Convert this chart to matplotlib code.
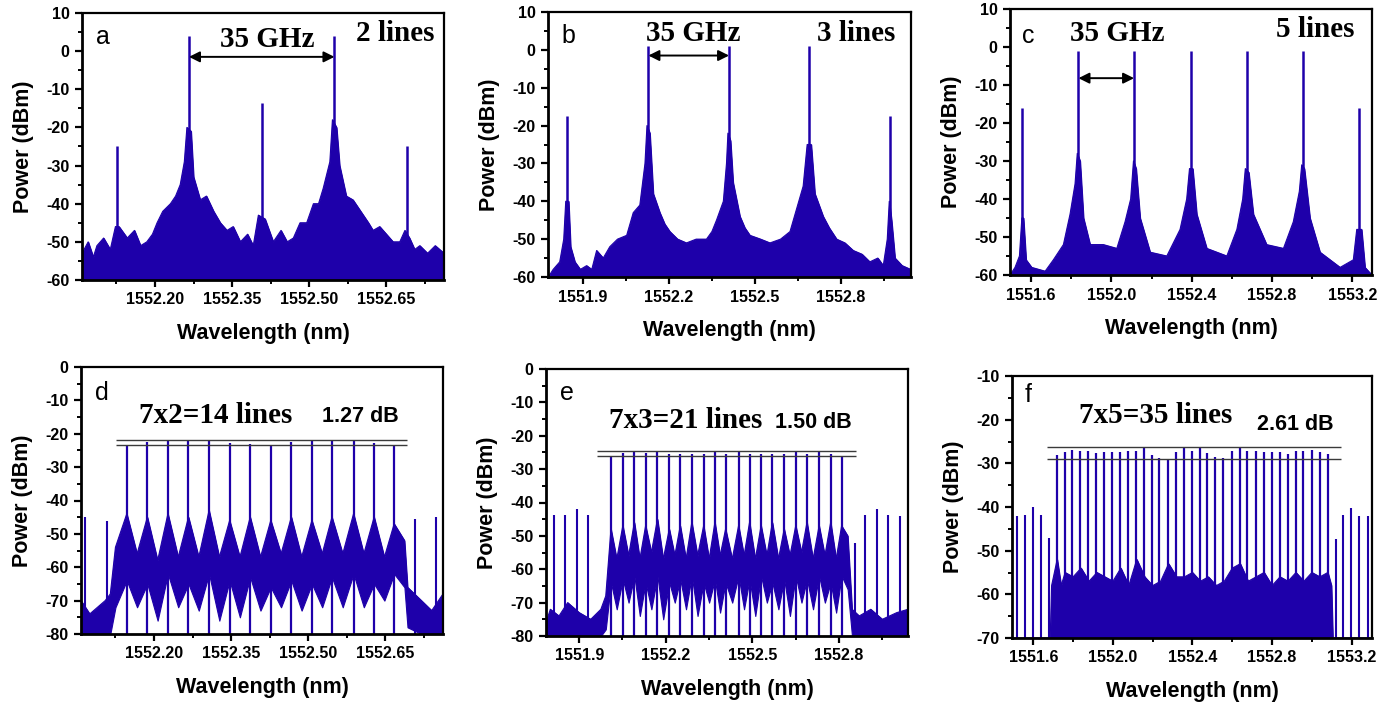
import matplotlib
matplotlib.use("Agg")
import matplotlib.pyplot as plt
from matplotlib.ticker import MultipleLocator, FormatStrFormatter

plt.rcParams["font.family"] = ["Liberation Sans", "DejaVu Sans"]
plt.rcParams["font.weight"] = "bold"
plt.rcParams["axes.unicode_minus"] = False

BLUE = "#1e00aa"
GRID_GRAY = "#3a3a3a"
SERIF = "Liberation Serif"

# ---------------- panel a: 2 lines ----------------
a_peak_wl = [1552.126, 1552.266, 1552.409, 1552.549, 1552.690]
a_peak_dbm = [-25.0, 4.0, -13.6, 4.0, -24.8]
a_floor_wl = [1552.058, 1552.070, 1552.080, 1552.087, 1552.100, 1552.113, 1552.123,
              1552.130, 1552.146, 1552.160, 1552.172, 1552.184, 1552.195, 1552.204,
              1552.215, 1552.230, 1552.240, 1552.249, 1552.257, 1552.262, 1552.270,
              1552.275, 1552.288, 1552.300, 1552.314, 1552.327, 1552.340, 1552.352,
              1552.366, 1552.380, 1552.391, 1552.401, 1552.414, 1552.430, 1552.445,
              1552.457, 1552.469, 1552.482, 1552.495, 1552.508, 1552.518, 1552.527,
              1552.540, 1552.545, 1552.553, 1552.559, 1552.572, 1552.585, 1552.595,
              1552.605, 1552.615, 1552.624, 1552.637, 1552.650, 1552.663, 1552.676,
              1552.686, 1552.695, 1552.705, 1552.715, 1552.730, 1552.745, 1552.762]
a_floor_hi = [-53, -50, -54, -51, -49, -52, -46, -46, -49, -47, -51, -50, -48, -45,
              -42, -40, -38, -35, -29, -20, -21, -33, -39, -38, -42, -45, -47, -46,
              -50, -48, -51, -43, -44, -50, -47, -50, -49, -45, -45, -40, -40, -36,
              -29, -18, -20, -30, -38, -39, -41, -43, -45, -47, -46, -48, -50, -50,
              -47, -49, -52, -51, -53, -51, -53]
a_floor_lo = [-60] * len(a_floor_wl)

# ---------------- panel b: 3 lines ----------------
b_peak_wl = [1551.844, 1552.128, 1552.410, 1552.690, 1552.972]
b_peak_dbm = [-17.5, 1.1, 1.1, 1.1, -17.5]
b_floor_wl = [1551.778, 1551.795, 1551.818, 1551.832, 1551.839, 1551.849, 1551.856,
              1551.871, 1551.890, 1551.912, 1551.930, 1551.947, 1551.970, 1551.993,
              1552.020, 1552.052, 1552.075, 1552.098, 1552.116, 1552.123, 1552.133,
              1552.145, 1552.168, 1552.185, 1552.203, 1552.230, 1552.261, 1552.295,
              1552.331, 1552.350, 1552.366, 1552.390, 1552.401, 1552.406, 1552.415,
              1552.424, 1552.448, 1552.465, 1552.483, 1552.520, 1552.553, 1552.590,
              1552.623, 1552.646, 1552.669, 1552.683, 1552.697, 1552.710, 1552.739,
              1552.760, 1552.786, 1552.815, 1552.844, 1552.875, 1552.902, 1552.930,
              1552.949, 1552.963, 1552.970, 1552.978, 1552.990, 1553.015, 1553.045]
b_floor_hi = [-60, -58, -56, -50, -40, -40, -52, -56, -58, -57, -58, -53, -55, -52,
              -50, -49, -43, -41, -30, -20, -22, -38, -43, -46, -48, -50, -51, -50,
              -50, -48, -45, -40, -30, -22, -24, -35, -44, -47, -49, -50, -51, -50,
              -48, -42, -36, -25, -25, -38, -44, -47, -50, -51, -53, -54, -56, -55,
              -57, -50, -40, -45, -55, -57, -58]
b_floor_lo = [-60] * len(b_floor_wl)

# ---------------- panel c: 5 lines ----------------
c_peak_wl = [1551.557, 1551.836, 1552.113, 1552.397, 1552.674, 1552.953, 1553.235]
c_peak_dbm = [-16.0, -1.0, -1.0, -1.0, -1.0, -1.0, -16.0]
c_floor_wl = [1551.495, 1551.520, 1551.542, 1551.554, 1551.562, 1551.575, 1551.603,
              1551.670, 1551.711, 1551.761, 1551.794, 1551.819, 1551.830, 1551.844,
              1551.861, 1551.894, 1551.960, 1552.027, 1552.068, 1552.096, 1552.110,
              1552.123, 1552.143, 1552.193, 1552.276, 1552.342, 1552.375, 1552.389,
              1552.405, 1552.425, 1552.475, 1552.575, 1552.625, 1552.654, 1552.667,
              1552.684, 1552.707, 1552.773, 1552.857, 1552.906, 1552.936, 1552.948,
              1552.961, 1552.989, 1553.039, 1553.139, 1553.205, 1553.222, 1553.246,
              1553.263, 1553.297]
c_floor_hi = [-60, -58, -55, -45, -45, -56, -58, -59, -56, -52, -44, -36, -28, -30,
              -45, -52, -52, -53, -46, -40, -30, -32, -45, -54, -55, -48, -40, -32,
              -32, -44, -53, -55, -48, -40, -32, -33, -44, -52, -53, -46, -38, -31,
              -32, -45, -54, -58, -56, -48, -48, -58, -60]
c_floor_lo = [-60] * len(c_floor_wl)

# ---------------- panel d: 7x2 = 14 lines ----------------
d_comb_wl = [1552.147, 1552.187, 1552.227, 1552.267, 1552.307, 1552.347, 1552.387,
             1552.427, 1552.467, 1552.507, 1552.546, 1552.588, 1552.628, 1552.667]
d_comb_dbm = [-23.27, -22.4, -22.0, -22.1, -22.0, -22.9, -23.2,
              -23.27, -22.6, -22.0, -22.1, -22.0, -22.9, -23.27]
d_side_wl = [1552.065, 1552.108, 1552.707, 1552.748]
d_side_dbm = [-45.0, -46.0, -45.5, -45.0]
d_floor_wl = [1552.058, 1552.075, 1552.090, 1552.105, 1552.115, 1552.125, 1552.147,
              1552.167, 1552.187, 1552.207, 1552.227, 1552.247, 1552.267, 1552.287,
              1552.307, 1552.327, 1552.347, 1552.367, 1552.387, 1552.407, 1552.427,
              1552.447, 1552.467, 1552.487, 1552.507, 1552.527, 1552.546, 1552.567,
              1552.588, 1552.608, 1552.628, 1552.648, 1552.667, 1552.687, 1552.693,
              1552.720, 1552.740, 1552.762]
d_floor_hi = [-70, -74, -72, -70, -68, -54, -44, -56, -45, -58, -44, -57, -45, -57,
              -43, -57, -46, -57, -45, -57, -46, -56, -45, -57, -46, -56, -45, -56,
              -44, -56, -45, -57, -47, -52, -66, -70, -73, -68]
d_floor_lo = [-80, -80, -80, -80, -80, -72, -64, -72, -65, -76, -62, -72, -65, -73,
              -62, -76, -64, -75, -63, -73, -66, -72, -64, -73, -65, -72, -63, -72,
              -62, -72, -65, -70, -62, -66, -78, -80, -80, -80]
d_flat_text = "1.27 dB"

# ---------------- panel e: 7x3 = 21 lines ----------------
e_comb_wl = [1552.010, 1552.051, 1552.091, 1552.130, 1552.171, 1552.212, 1552.250,
             1552.290, 1552.331, 1552.370, 1552.407, 1552.452, 1552.490, 1552.530,
             1552.569, 1552.610, 1552.650, 1552.689, 1552.731, 1552.771, 1552.809]
e_comb_dbm = [-26.0, -25.3, -24.5, -25.3, -24.5, -25.6, -25.6, -25.6, -25.6, -24.5,
              -25.6, -24.5, -25.6, -25.6, -25.6, -25.6, -24.5, -25.6, -24.5, -25.6, -26.0]
e_side_wl = [1551.811, 1551.850, 1551.892, 1551.932, 1552.855,
             1552.891, 1552.930, 1552.970, 1553.013]
e_side_dbm = [-43.6, -43.6, -42.0, -43.6, -52.0, -43.6, -42.0, -43.6, -44.0]
e_floor_wl = [1551.785, 1551.800, 1551.830, 1551.860, 1551.900, 1551.940, 1551.975,
              1551.992, 1552.010, 1552.030, 1552.051, 1552.071, 1552.091, 1552.110,
              1552.130, 1552.150, 1552.171, 1552.191, 1552.212, 1552.231, 1552.250,
              1552.270, 1552.290, 1552.310, 1552.331, 1552.350, 1552.370, 1552.388,
              1552.407, 1552.430, 1552.452, 1552.471, 1552.490, 1552.510, 1552.530,
              1552.550, 1552.569, 1552.590, 1552.610, 1552.630, 1552.650, 1552.670,
              1552.689, 1552.710, 1552.731, 1552.751, 1552.771, 1552.790, 1552.809,
              1552.830, 1552.845, 1552.870, 1552.910, 1552.950, 1553.000, 1553.039]
e_floor_hi = [-76, -72, -74, -70, -73, -75, -72, -68, -48, -57, -47, -56, -46, -57,
              -47, -55, -45, -57, -48, -56, -47, -57, -46, -56, -47, -57, -46, -56,
              -48, -57, -47, -56, -46, -57, -47, -56, -46, -57, -48, -56, -47, -55,
              -46, -57, -47, -56, -46, -57, -47, -50, -72, -74, -72, -75, -73, -72]
e_floor_lo = [-80, -80, -80, -80, -80, -80, -80, -78, -64, -72, -63, -70, -62, -74,
              -64, -72, -62, -75, -64, -70, -63, -72, -62, -74, -64, -70, -63, -73,
              -64, -70, -62, -72, -63, -74, -62, -70, -64, -72, -63, -74, -62, -70,
              -63, -72, -62, -70, -64, -73, -62, -66, -80, -80, -80, -80, -80, -80]
e_flat_text = "1.50 dB"

# ---------------- panel f: 7x5 = 35 lines ----------------
f_comb_wl = [1551.719, 1551.757, 1551.794, 1551.835, 1551.875, 1551.913, 1551.953,
             1551.994, 1552.036, 1552.076, 1552.116, 1552.156, 1552.195, 1552.233,
             1552.278, 1552.319, 1552.359, 1552.399, 1552.439, 1552.474, 1552.515,
             1552.555, 1552.600, 1552.637, 1552.675, 1552.717, 1552.757, 1552.799,
             1552.838, 1552.878, 1552.918, 1552.955, 1552.999, 1553.039, 1553.079]
f_comb_dbm = [-28.2, -27.4, -27.0, -27.2, -27.2, -27.6, -27.4, -27.4, -27.4, -27.2,
              -27.2, -26.3, -28.2, -28.7, -28.91, -27.4, -26.6, -27.2, -26.6, -27.6,
              -28.5, -28.7, -27.2, -26.3, -27.2, -27.2, -27.4, -27.4, -27.4, -27.8,
              -27.2, -27.2, -26.9, -27.4, -27.9]
f_side_wl = [1551.520, 1551.558, 1551.597, 1551.639, 1551.677,
             1553.119, 1553.158, 1553.198, 1553.238, 1553.280]
f_side_dbm = [-42.1, -41.9, -40.0, -41.9, -47.1, -47.3, -41.8, -40.2, -42.1, -42.1]
f_floor_wl = [1551.493, 1551.685, 1551.692, 1551.720, 1551.740, 1551.760, 1551.800,
              1551.840, 1551.880, 1551.920, 1551.960, 1552.000, 1552.040, 1552.080,
              1552.120, 1552.160, 1552.200, 1552.240, 1552.280, 1552.320, 1552.360,
              1552.400, 1552.440, 1552.480, 1552.520, 1552.560, 1552.600, 1552.640,
              1552.680, 1552.720, 1552.760, 1552.800, 1552.840, 1552.880, 1552.920,
              1552.960, 1553.000, 1553.040, 1553.080, 1553.098, 1553.105, 1553.302]
f_floor_hi = [-70, -70, -58, -52, -58, -55, -56, -54, -57, -55, -56, -57, -54, -58,
              -52, -56, -58, -57, -53, -56, -56, -55, -57, -56, -58, -57, -54, -53,
              -57, -56, -55, -58, -56, -57, -55, -57, -55, -56, -55, -58, -70, -70]
f_floor_lo = [-70] * len(f_floor_wl)
f_flat_text = "2.61 dB"


def px_axes(fig, left, top, right, bottom):
    W, H = 1400, 708
    return fig.add_axes([left / W, (H - bottom) / H, (right - left) / W, (bottom - top) / H])


def style_axes(ax, xlim, ylim, xmaj, xmin, ymaj, xfmt):
    ax.set_xlim(*xlim)
    ax.set_ylim(*ylim)
    ax.xaxis.set_major_locator(MultipleLocator(xmaj))
    ax.xaxis.set_minor_locator(MultipleLocator(xmin))
    ax.yaxis.set_major_locator(MultipleLocator(ymaj))
    ax.yaxis.set_minor_locator(MultipleLocator(ymaj / 2))
    ax.xaxis.set_major_formatter(FormatStrFormatter(xfmt))
    ax.tick_params(which="major", direction="out", length=5, width=1.6,
                   labelsize=11.5, pad=4)
    ax.tick_params(which="minor", direction="out", length=3, width=1.4)
    ax.tick_params(top=False, right=False, which="both")
    for side in ("left", "bottom"):
        ax.spines[side].set_linewidth(2.0)
    for side in ("top", "right"):
        ax.spines[side].set_linewidth(1.6)
    ax.set_xlabel("Wavelength (nm)", fontsize=15.5, fontweight="bold", labelpad=11)
    ax.set_ylabel("Power (dBm)", fontsize=15.5, fontweight="bold", labelpad=9)


def draw_spectrum(ax, floor_wl, floor_lo, floor_hi, peak_wl, peak_dbm, floor_base, lw=1.8):
    ax.fill_between(floor_wl, floor_lo, floor_hi, color=BLUE, linewidth=0.8)
    ax.plot(floor_wl, floor_hi, color=BLUE, linewidth=0.8)
    ax.vlines(peak_wl, floor_base, peak_dbm, color=BLUE, linewidth=lw)


def arrow(ax, x0, x1, y):
    ax.annotate("", xy=(x0, y), xytext=(x1, y),
                arrowprops=dict(arrowstyle="<|-|>", color="black", lw=1.4,
                                mutation_scale=16, shrinkA=0, shrinkB=0))


fig = plt.figure(figsize=(14, 7.08), dpi=100)

# panel a
ax = px_axes(fig, 82, 13, 444, 280)
draw_spectrum(ax, a_floor_wl, a_floor_lo, a_floor_hi, a_peak_wl, a_peak_dbm, -60)
style_axes(ax, (1552.058, 1552.762), (-60, 10), 0.15, 0.075, 10, "%.2f")
arrow(ax, a_peak_wl[1], a_peak_wl[3], -1.5)
ax.text(0.04, 0.884, "a", transform=ax.transAxes, fontsize=18, fontweight="normal")
ax.text(0.511, 0.874, "35 GHz", transform=ax.transAxes, ha="center",
        fontsize=21, fontweight="bold", family=SERIF)
ax.text(0.975, 0.896, "2 lines", transform=ax.transAxes, ha="right",
        fontsize=21, fontweight="bold", family=SERIF)

# panel b
ax = px_axes(fig, 548, 12, 911, 277)
draw_spectrum(ax, b_floor_wl, b_floor_lo, b_floor_hi, b_peak_wl, b_peak_dbm, -60)
style_axes(ax, (1551.777, 1553.046), (-60, 10), 0.3, 0.15, 10, "%.1f")
arrow(ax, b_peak_wl[1], b_peak_wl[2], -1.5)
ax.text(0.038, 0.882, "b", transform=ax.transAxes, fontsize=18, fontweight="normal")
ax.text(0.40, 0.892, "35 GHz", transform=ax.transAxes, ha="center",
        fontsize=21, fontweight="bold", family=SERIF)
ax.text(0.956, 0.892, "3 lines", transform=ax.transAxes, ha="right",
        fontsize=21, fontweight="bold", family=SERIF)

# panel c
ax = px_axes(fig, 1010, 9, 1372, 275)
draw_spectrum(ax, c_floor_wl, c_floor_lo, c_floor_hi, c_peak_wl, c_peak_dbm, -60)
style_axes(ax, (1551.495, 1553.298), (-60, 10), 0.4, 0.2, 10, "%.1f")
arrow(ax, c_peak_wl[1], c_peak_wl[2], -8.2)
ax.text(0.032, 0.871, "c", transform=ax.transAxes, fontsize=18, fontweight="normal")
ax.text(0.295, 0.881, "35 GHz", transform=ax.transAxes, ha="center",
        fontsize=21, fontweight="bold", family=SERIF)
ax.text(0.953, 0.896, "5 lines", transform=ax.transAxes, ha="right",
        fontsize=21, fontweight="bold", family=SERIF)

# bottom row: flattened combs with flatness bracket lines
bottom_panels = [
    ((81, 367, 443, 634), (1552.058, 1552.762), (-80, 0), 0.15, 0.075, "%.2f",
     d_floor_wl, d_floor_lo, d_floor_hi, d_comb_wl, d_comb_dbm, d_side_wl, d_side_dbm,
     (1552.126, 1552.692), "d", (0.039, 0.876), "7x2=14 lines", (0.372, 0.791),
     d_flat_text, (0.771, 0.795)),
    ((546, 369, 908, 636), (1551.785, 1553.039), (-80, 0), 0.3, 0.15, "%.1f",
     e_floor_wl, e_floor_lo, e_floor_hi, e_comb_wl, e_comb_dbm, e_side_wl, e_side_dbm,
     (1551.960, 1552.859), "e", (0.039, 0.884), "7x3=21 lines", (0.386, 0.780),
     e_flat_text, (0.738, 0.780)),
    ((1012, 376, 1372, 638), (1551.493, 1553.302), (-70, -10), 0.4, 0.2, "%.1f",
     f_floor_wl, f_floor_lo, f_floor_hi, f_comb_wl, f_comb_dbm, f_side_wl, f_side_dbm,
     (1551.667, 1553.144), "f", (0.036, 0.902), "7x5=35 lines", (0.40, 0.819),
     f_flat_text, (0.786, 0.794)),
]

for (box, xlim, ylim, xmaj, xmin, xfmt, fwl, flo, fhi, cwl, cdb, swl, sdb,
     span, letter, lpos, title, tpos, flat, fpos) in bottom_panels:
    ax = px_axes(fig, *box)
    draw_spectrum(ax, fwl, flo, fhi, cwl, cdb, ylim[0], lw=1.6)
    ax.vlines(swl, ylim[0], sdb, color=BLUE, linewidth=1.5)
    ax.hlines([max(cdb), min(cdb)], span[0], span[1], color=GRID_GRAY, linewidth=1.0)
    style_axes(ax, xlim, ylim, xmaj, xmin, 10, xfmt)
    ax.text(lpos[0], lpos[1], letter, transform=ax.transAxes, fontsize=18,
            fontweight="normal")
    ax.text(tpos[0], tpos[1], title, transform=ax.transAxes, ha="center",
            fontsize=21, fontweight="bold", family=SERIF)
    ax.text(fpos[0], fpos[1], flat, transform=ax.transAxes, ha="center",
            fontsize=15.5, fontweight="bold")

fig.savefig("out.png", dpi=100)
